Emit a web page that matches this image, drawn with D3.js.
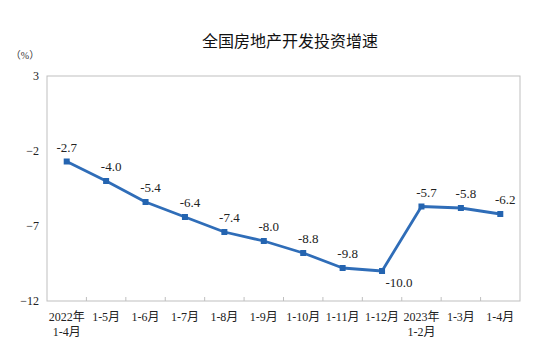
<!DOCTYPE html>
<html>
<head>
<meta charset="utf-8">
<script src="https://cdn.jsdelivr.net/npm/d3@7"></script>
<style>
  body { margin: 0; background: #fff; }
  svg { display: block; }
</style>
</head>
<body>
<div id="chart"></div>
<script>
// ===== DATA =====
const categories = ["2022年\n1-4月", "1-5月", "1-6月", "1-7月", "1-8月", "1-9月", "1-10月", "1-11月", "1-12月", "2023年\n1-2月", "1-3月", "1-4月"];
const growth = [-2.7, -4.0, -5.4, -6.4, -7.4, -8.0, -8.8, -9.8, -10.0, -5.7, -5.8, -6.2];
const yTicks = [3, -2, -7, -12];

const width = 558, height = 358;
const margin = { top: 76, right: 38, bottom: 57, left: 47 };
const serif = '"Liberation Serif", "Times New Roman", "Noto Sans CJK SC", serif';

const svg = d3.select('#chart').append('svg')
    .attr('width', width)
    .attr('height', height);

// Title
svg.append('text')
    .attr('x', 290).attr('y', 47)
    .attr('text-anchor', 'middle')
    .attr('font-family', '"Noto Sans CJK SC", sans-serif')
    .attr('font-size', '16px')
    .attr('fill', '#111')
    .text('全国房地产开发投资增速');

// unit
svg.append('text')
    .attr('x', 25).attr('y', 59)
    .attr('text-anchor', 'middle')
    .attr('font-family', serif)
    .attr('font-size', '10px')
    .attr('fill', '#333')
    .text('（%）');

const x = d3.scaleBand()
    .domain(categories)
    .range([margin.left, width - margin.right]);

const y = d3.scaleLinear()
    .domain([-12, 3])
    .range([height - margin.bottom, margin.top]);

// frame
svg.append('rect')
    .attr('x', margin.left).attr('y', margin.top)
    .attr('width', width - margin.left - margin.right)
    .attr('height', height - margin.top - margin.bottom)
    .attr('fill', 'none')
    .attr('stroke', '#bfbfbf')
    .attr('stroke-width', 1);

// y axis labels
const yAxis = svg.append('g')
    .attr('transform', `translate(${margin.left},0)`)
    .call(d3.axisLeft(y).tickValues(yTicks).tickSize(0).tickPadding(8));
yAxis.select('.domain').remove();
yAxis.selectAll('text')
    .attr('font-family', serif)
    .attr('font-size', '12px')
    .attr('fill', '#222');

// x axis: ticks between categories, pointing inward
const xBase = height - margin.bottom;
svg.append('g')
    .selectAll('line')
    .data(categories.slice(1))
    .enter().append('line')
    .attr('x1', d => x(d)).attr('x2', d => x(d))
    .attr('y1', xBase).attr('y2', xBase - 4)
    .attr('stroke', '#bfbfbf');

const xLabels = svg.append('g')
    .selectAll('text')
    .data(categories)
    .enter().append('text')
    .attr('x', d => x(d) + x.bandwidth() / 2)
    .attr('y', xBase + 20)
    .attr('text-anchor', 'middle')
    .attr('font-family', serif)
    .attr('font-size', '12px')
    .attr('fill', '#222');
xLabels.each(function(d) {
    const lines = d.split('\n');
    const t = d3.select(this);
    lines.forEach((s, i) => {
        t.append('tspan')
            .attr('x', x(d) + x.bandwidth() / 2)
            .attr('dy', i === 0 ? 0 : 15)
            .text(s);
    });
});

// line
const cx = (d, i) => x(categories[i]) + x.bandwidth() / 2;
const line = d3.line()
    .x(cx)
    .y(d => y(d));

svg.append('path')
    .datum(growth)
    .attr('d', line)
    .attr('fill', 'none')
    .attr('stroke', '#2f6db8')
    .attr('stroke-width', 2.8)
    .attr('stroke-linejoin', 'round');

svg.append('g')
    .selectAll('rect')
    .data(growth)
    .enter().append('rect')
    .attr('x', (d, i) => cx(d, i) - 3)
    .attr('y', d => y(d) - 3)
    .attr('width', 6).attr('height', 6)
    .attr('fill', '#2464b0');

// data labels: above, except the lowest point which sits below-right
const minVal = d3.min(growth);
svg.append('g')
    .selectAll('text')
    .data(growth)
    .enter().append('text')
    .attr('x', (d, i) => cx(d, i) + (d === minVal ? 17 : (i === 0 ? 0 : 5)))
    .attr('y', d => y(d) + (d === minVal ? 16 : -10))
    .attr('text-anchor', 'middle')
    .attr('font-family', serif)
    .attr('font-size', '13px')
    .attr('fill', '#222')
    .text(d => d.toFixed(1));
</script>
</body>
</html>
